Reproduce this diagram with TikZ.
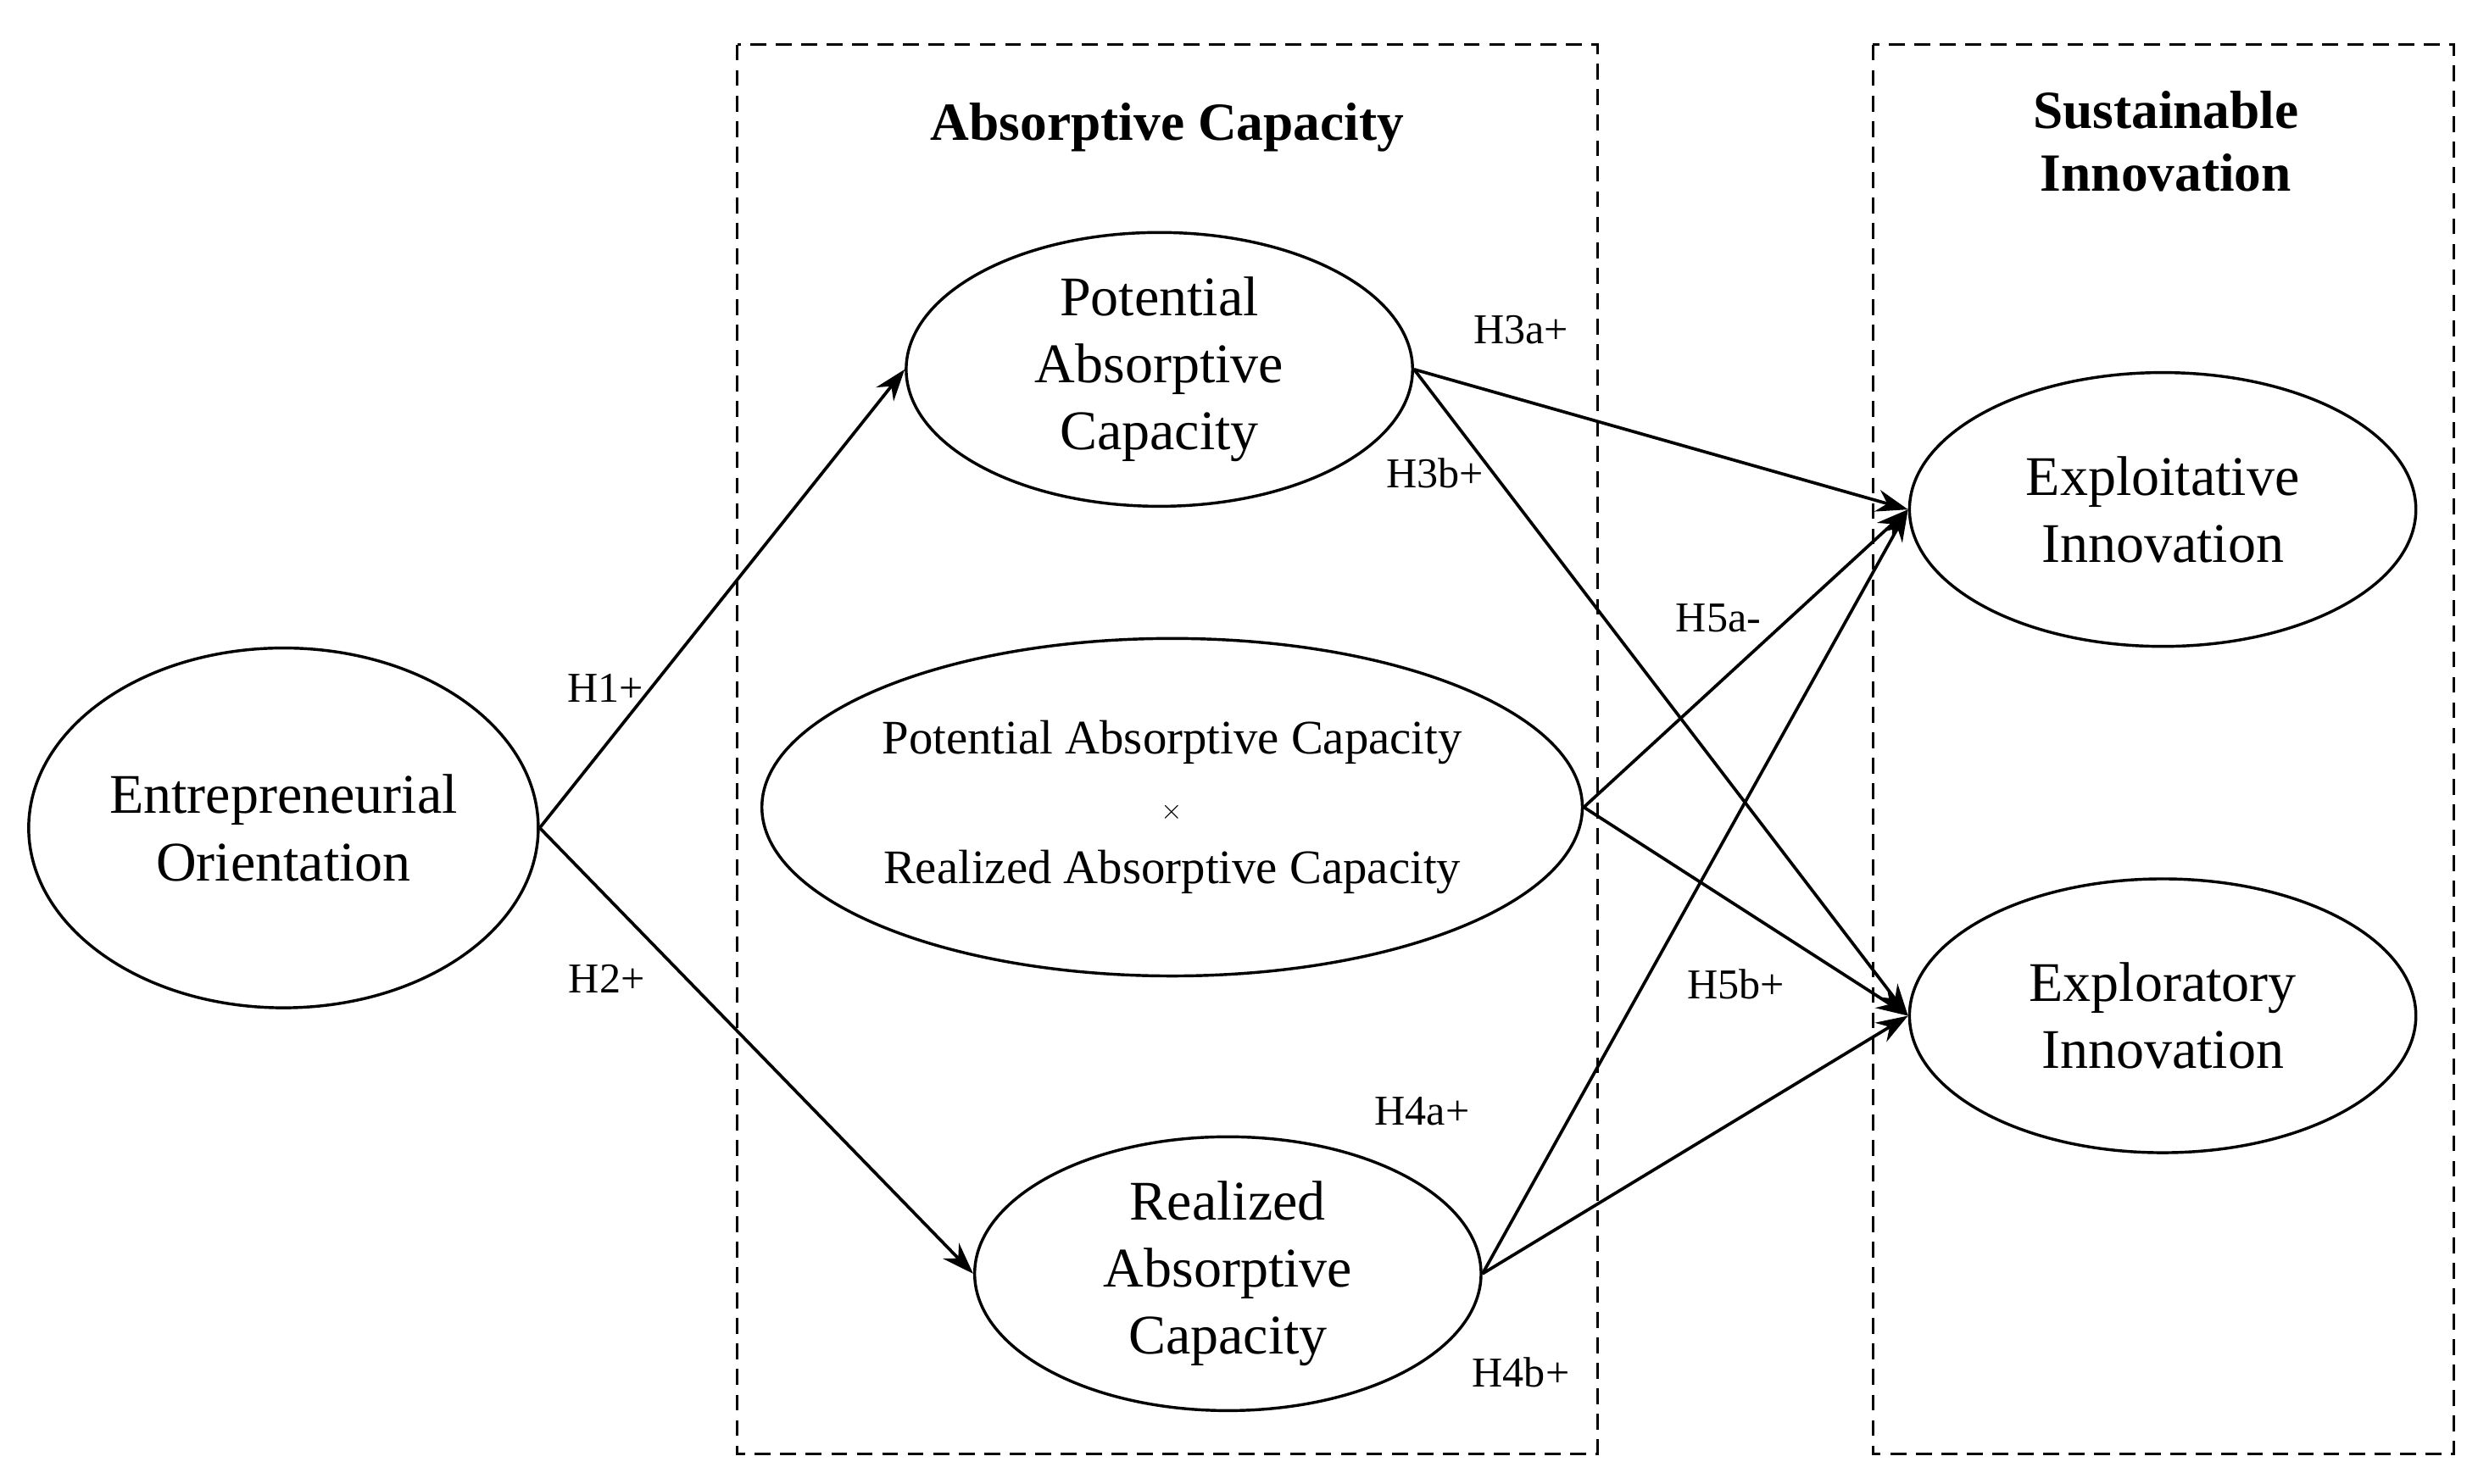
\documentclass[tikz,border=0pt]{standalone}
\usepackage{fontspec}
\setmainfont{Liberation Serif}
\usetikzlibrary{shapes.geometric,arrows.meta}
\begin{document}
\begin{tikzpicture}[x=0.05cm,y=-0.05cm,
  ell/.style={ellipse,draw,line width=2.6pt,inner sep=0pt,align=center,font=\fontsize{50}{60}\selectfont},
  box/.style={draw,dashed,line width=2.2pt,dash pattern=on 0.5cm off 0.3cm},
  arr/.style={line width=2.8pt,-{Stealth[length=1cm,width=0.7cm]}},
  lab/.style={font=\fontsize{38}{44}\selectfont},
  ttl/.style={font=\bfseries\fontsize{48}{56}\selectfont,align=center}]
\useasboundingbox (0,0) rectangle (1556,932);
\draw[box] (463,28) rectangle (1003,913);
\draw[box] (1176,28) rectangle (1541,913);
\node[ttl] (t1) at (733,80) {Absorptive Capacity};
\node[ttl] (t2) at (1360,89) {Sustainable\\Innovation};
\node[ell,minimum width=16cm,minimum height=11.3cm] (eo) at (178,520) {Entrepreneurial\\Orientation};
\node[ell,minimum width=15.9cm,minimum height=8.6cm] (pac) at (728,232) {Potential\\Absorptive\\Capacity};
\node[ell,minimum width=25.4cm,minimum height=10.6cm,font=\fontsize{43}{58}\selectfont] (int) at (736,507) {Potential Absorptive Capacity\\$\times$\\Realized Absorptive Capacity};
\node[ell,minimum width=15.9cm,minimum height=8.6cm] (rac) at (771,800) {Realized\\Absorptive\\Capacity};
\node[ell,minimum width=15.9cm,minimum height=8.6cm] (exi) at (1358,320) {Exploitative\\Innovation};
\node[ell,minimum width=15.9cm,minimum height=8.6cm] (exr) at (1358,638) {Exploratory\\Innovation};
\draw[arr] (eo.east) -- (pac.west);
\draw[arr] (eo.east) -- (rac.west);
\draw[arr] (pac.east) -- (exi.west);
\draw[arr] (pac.east) -- (exr.west);
\draw[arr] (int.east) -- (exi.west);
\draw[arr] (int.east) -- (exr.west);
\draw[arr] (rac.east) -- (exi.west);
\draw[arr] (rac.east) -- (exr.west);
\node[lab] (h1) at (380,432) {H1+};
\node[lab] (h2) at (381,615) {H2+};
\node[lab] (h3a) at (955,207) {H3a+};
\node[lab] (h3b) at (901,297) {H3b+};
\node[lab] (h5a) at (1079,388) {H5a-};
\node[lab] (h5b) at (1090,618) {H5b+};
\node[lab] (h4a) at (893,698) {H4a+};
\node[lab] (h4b) at (955,862) {H4b+};
\end{tikzpicture}
\end{document}
